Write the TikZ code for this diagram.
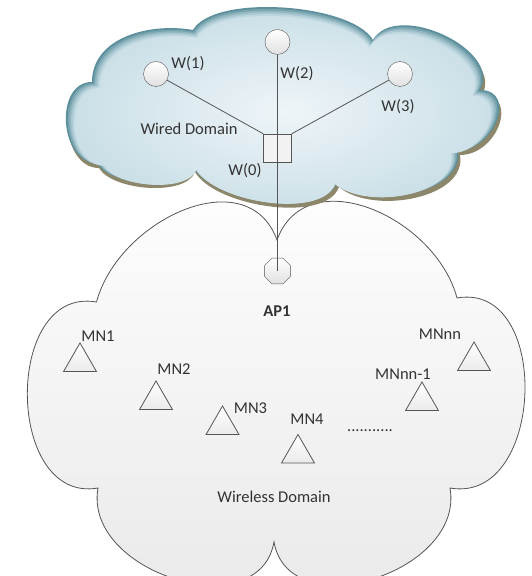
\documentclass[tikz,border=0pt]{standalone}
\usepackage{fontspec}
\setmainfont{Carlito}
\usetikzlibrary{shapes.geometric}

\definecolor{linegray}{HTML}{555555}
\definecolor{textgray}{HTML}{333333}
\definecolor{rimteal}{HTML}{5B8F9B}
\definecolor{wiredin}{HTML}{EEF5F8}
\definecolor{wiredout}{HTML}{C9DEE6}
\definecolor{shadowolive}{HTML}{8C866A}

\tikzset{
  lbl/.style={text=textgray, font=\fontsize{16.5}{19}\selectfont, inner sep=1pt},
  wnode/.style={circle, draw=linegray, top color=white, bottom color=black!12, minimum size=25pt, inner sep=0pt},
  switchbox/.style={rectangle, draw=linegray, fill=black!5, minimum size=28pt, inner sep=0pt},
  apnode/.style={regular polygon, regular polygon sides=8, draw=linegray, top color=white, bottom color=black!12, minimum size=28pt, inner sep=0pt},
  mnode/.style={regular polygon, regular polygon sides=3, draw=linegray, line width=0.8pt, top color=white, bottom color=black!8, minimum size=38pt, inner sep=0pt},
  link/.style={draw=linegray, line width=0.8pt}
}

% cloud outlines
\newcommand{\wiredcloud}{(193,546) to[out=60,in=120,looseness=0.6] (373,536)
  to[out=60,in=60] (480,486) to[out=0,in=0,looseness=1.5] (458,426)
  to[out=-80,in=-40,looseness=0.9] (337,394) to[out=-110,in=-60,looseness=0.7] (193,409)
  to[out=-110,in=-60,looseness=0.7] (97,413) to[out=180,in=180,looseness=1.2] (92,494)
  to[out=90,in=170] (193,546) -- cycle}
\newcommand{\wirelesscloud}{(96.5,274) to[out=75,in=110,looseness=1.15] (277,336)
  to[out=70,in=105,looseness=1.15] (457,278) to[out=10,in=-10,looseness=1.3] (450,88)
  to[out=-80,in=-80,looseness=1.2] (274,34) to[out=-100,in=-100,looseness=1.2] (98,88)
  to[out=190,in=170,looseness=1.3] (96.5,274) -- cycle}

\begin{document}
\begin{tikzpicture}[x=1pt,y=1pt]
  \useasboundingbox (0,0) rectangle (531,576);
  \fill[white] (0,0) rectangle (531,576);
  % wireless domain
  \shade[top color=white, bottom color=black!9, draw=linegray, line width=0.8pt] \wirelesscloud;
  % wired domain
  \fill[shadowolive, shift={(2,-5)}] \wiredcloud;
  \foreach \k/\c in {0/100, 1/75, 2/50, 3/28, 4/10}
    \fill[rimteal!\c!wiredout, shift={(0,-\k)}, scale around={1-0.008*\k:(283,470)}] \wiredcloud;
  \shade[inner color=wiredin, outer color=wiredout, shift={(0,-5)}, scale around={0.96:(283,470)}] \wiredcloud;

  \draw
    (156,502) node[wnode] (w1){}
    (277.5,534) node[wnode] (w2){}
    (400,502) node[wnode] (w3){}
    (277.5,428) node[switchbox] (w0){}
    (277.5,305) node[apnode] (ap1){}
    (80,214) node[mnode] (mn1){}
    (156,176) node[mnode] (mn2){}
    (222.5,151) node[mnode] (mn3){}
    (298,122.5) node[mnode] (mn4){}
    (422,175) node[mnode] (mnnm){}
    (474,215) node[mnode] (mnnn){};

  \draw
    (188,512) node[lbl] (w1lbl){W(1)}
    (297,502) node[lbl] (w2lbl){W(2)}
    (398,469) node[lbl] (w3lbl){W(3)}
    (245,405) node[lbl] (w0lbl){W(0)}
    (189,447) node[lbl] (wiredlbl){Wired Domain}
    (277,265) node[lbl, font=\fontsize{16.5}{19}\selectfont\bfseries] (ap1lbl){AP1}
    (98,240) node[lbl] (mn1lbl){MN1}
    (174,206.5) node[lbl] (mn2lbl){MN2}
    (250.5,168) node[lbl] (mn3lbl){MN3}
    (307,156.4) node[lbl] (mn4lbl){MN4}
    (403,201.4) node[lbl] (mnnmlbl){MNnn-1}
    (440,242) node[lbl] (mnnnlbl){MNnn}
    (370,145) node[lbl] (dotslbl){...........}
    (274,79.5) node[lbl] (wirelesslbl){Wireless Domain};

  \begin{scope}[link]
    \draw (w1) to (w0.north west);
    \draw (w3) to (w0.north east);
    \draw (w2) to (w0.center);
    \draw (w0.center) to (ap1.center);
  \end{scope}
\end{tikzpicture}
\end{document}
